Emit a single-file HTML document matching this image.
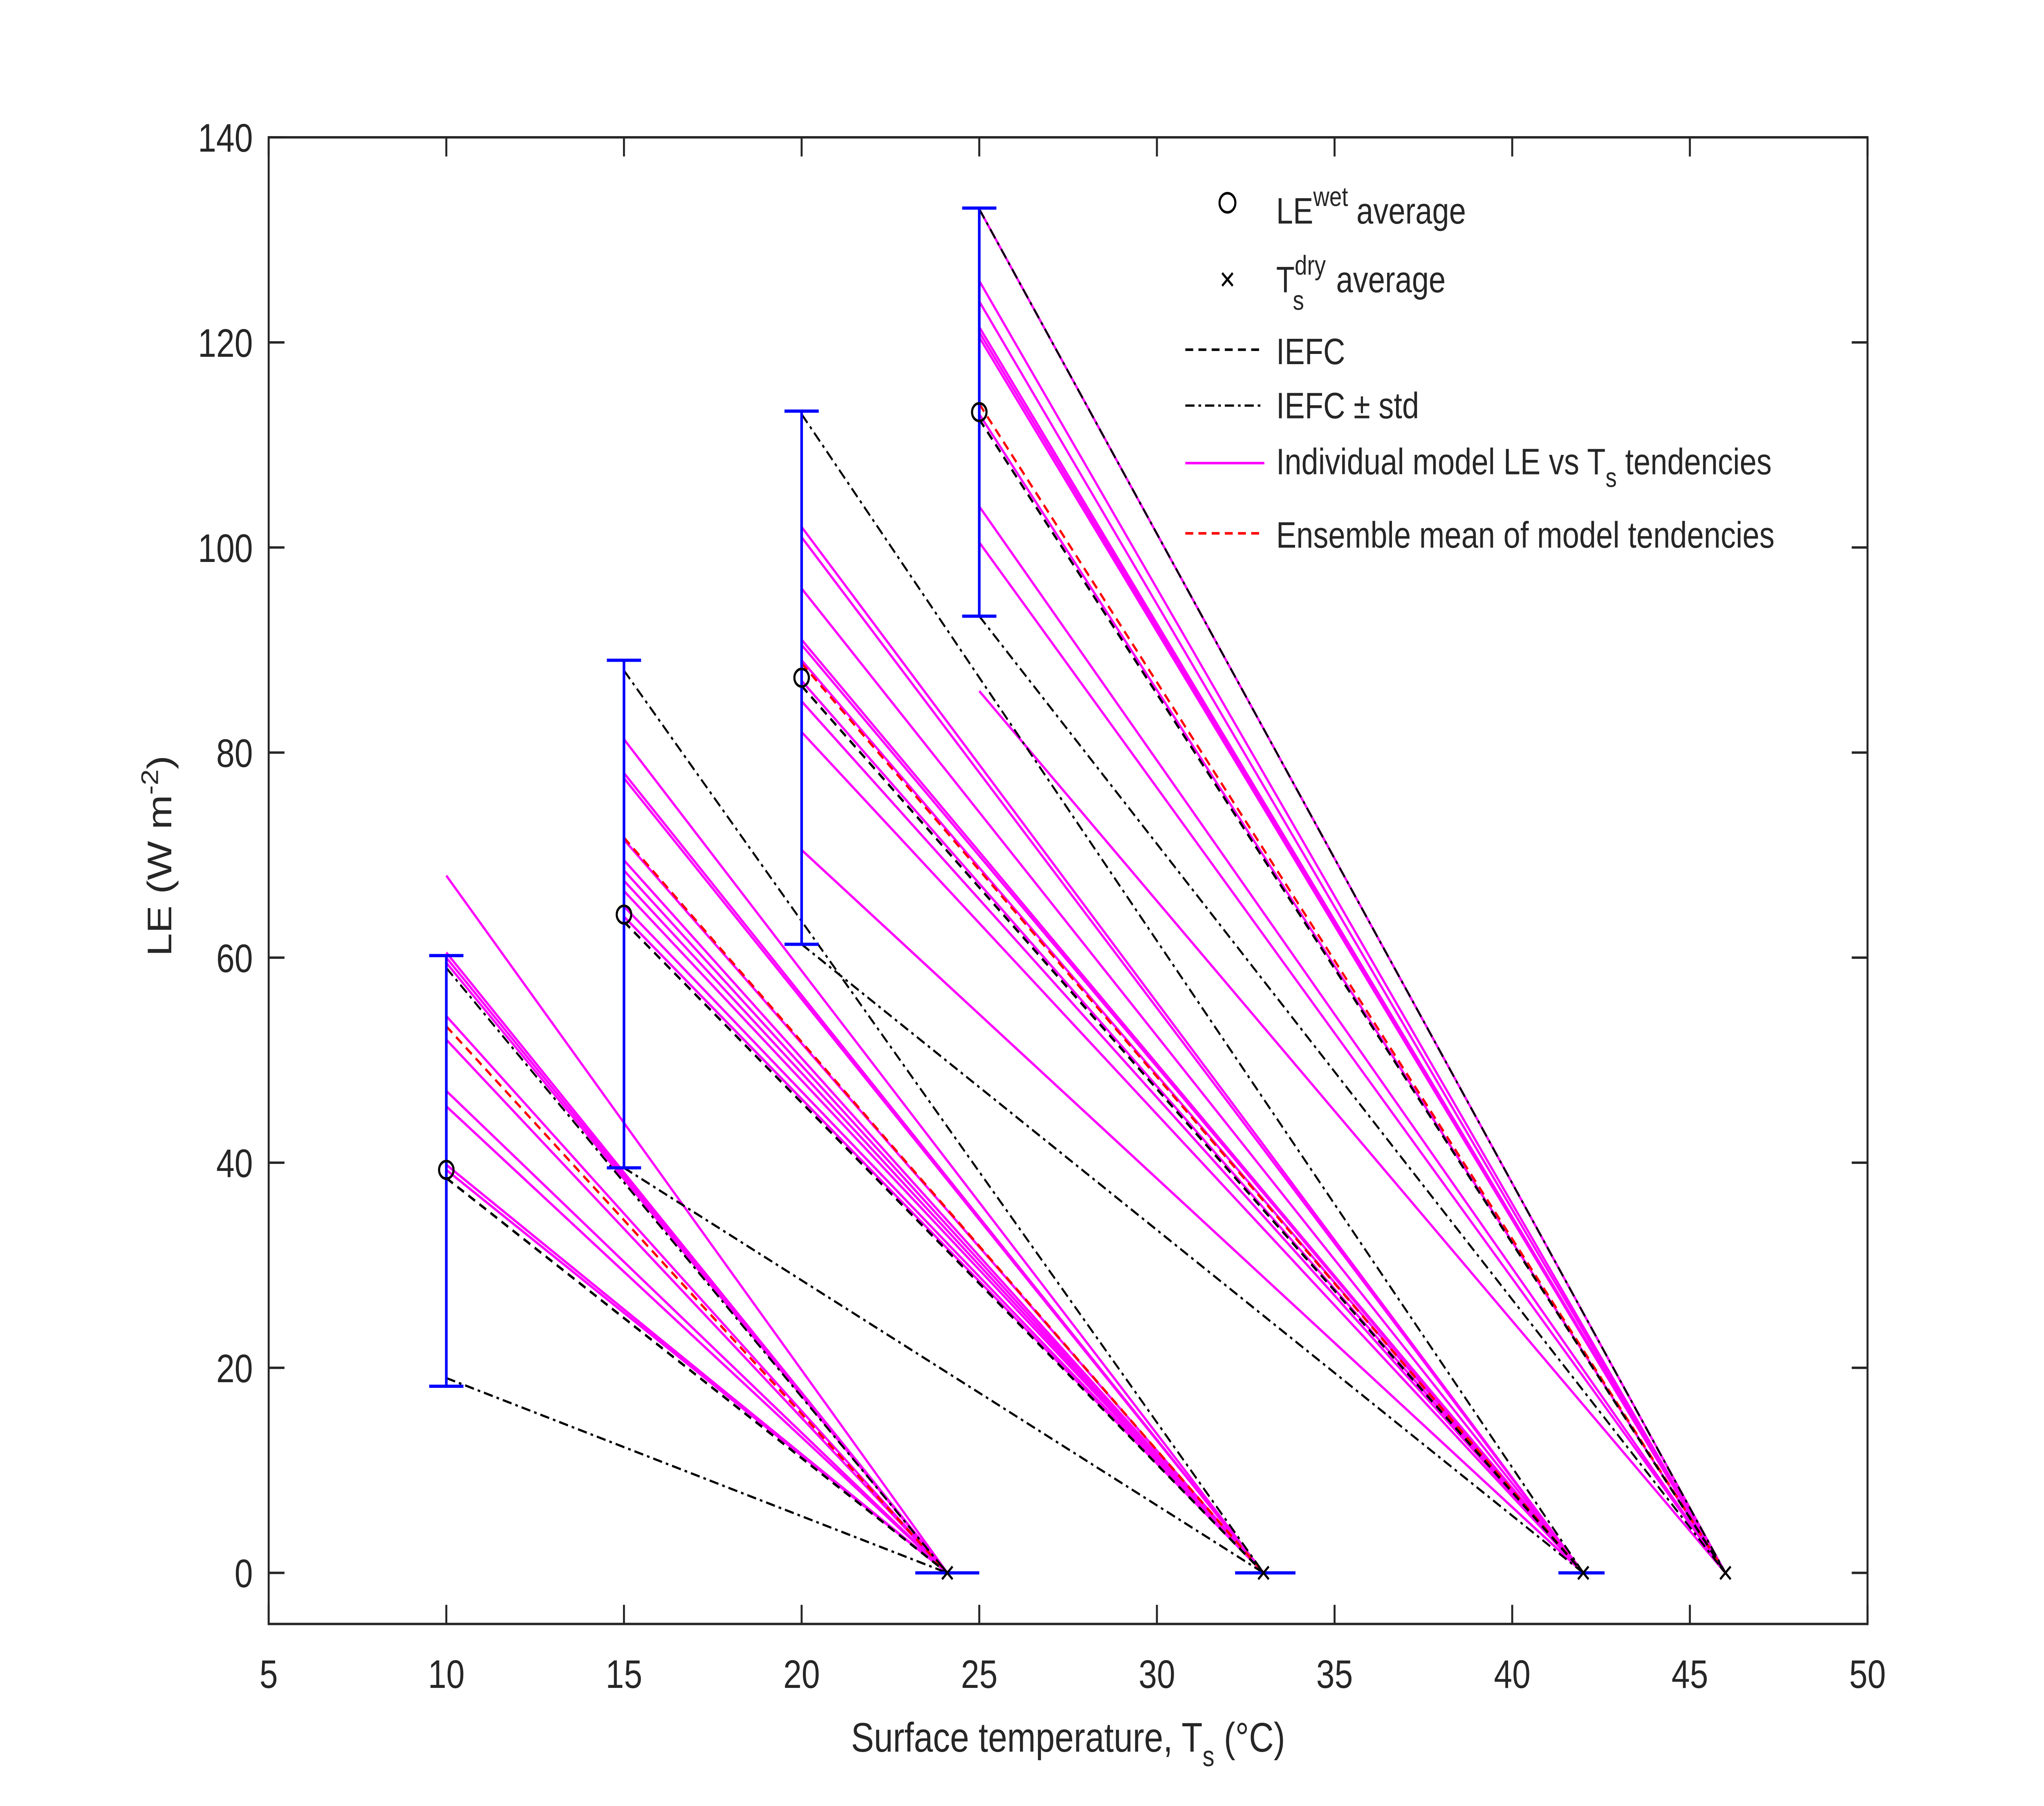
<!DOCTYPE html>
<html><head><meta charset="utf-8"><style>
html,body{margin:0;padding:0;background:#fff;width:100%;height:100%;overflow:hidden;}
svg{display:block;position:absolute;left:0;top:0;width:100vw;height:100vh;}
text{font-family:"Liberation Sans",sans-serif;fill:#262626;}
</style></head><body>
<svg id="chart" viewBox="0 0 1552 1131" preserveAspectRatio="none" xmlns="http://www.w3.org/2000/svg">
<rect width="1552" height="1131" fill="#fff"/>
<g id="scaler">
<g id="plot"></g>
</g>
</svg>
<script>
const wetT = [10, 15, 20, 25];
const dryT = [24.1, 33.0, 42.0, 46.0];
const wetLE = [39.3, 64.2, 87.3, 113.2];
const errLow = [18.2, 39.5, 61.3, 93.3];
const errHigh = [60.2, 89.0, 113.3, 133.1];
const dryErrLow = [23.2, 32.2, 41.3, 46.0];
const dryErrHigh = [25.0, 33.9, 42.6, 46.0];
const iefcStart = [38.5, 63.5, 86.5, 112.5];
const stdUpper = [59.0, 88.0, 113.0, 133.0];
const stdLower = [19.0, 39.5, 61.3, 93.3];
const modelStarts = [
  [68, 60.5, 60, 59.5, 54.3, 52, 47, 45.5, 39.8, 39.3],
  [81.3, 78, 77.5, 71.5, 69.5, 68.5, 67.5, 66.5, 65, 64],
  [102, 101, 96, 91, 90.5, 89, 87, 85, 82, 70.5],
  [133, 126, 124, 121.5, 121, 120.5, 113, 104, 100.5, 86]
];
const ensembleStart = [53.3, 71.7, 88.7, 114];
const xTicks = [5,10,15,20,25,30,35,40,45,50];
const yTicks = [0,20,40,60,80,100,120,140];

const L=204,R=1418,T=86,B=1017;
const X=v=>L+(v-5)*(R-L)/45;
const Y=v=>985-v*(985-86)/140;
const NS="http://www.w3.org/2000/svg";
const g=document.getElementById('plot');
function mk(tag,attrs,parent){const e=document.createElementNS(NS,tag);for(const k in attrs)e.setAttribute(k,attrs[k]);(parent||g).appendChild(e);return e;}
function line(x1,y1,x2,y2,stroke,w,dash){const e=mk('line',{x1,y1,x2,y2,stroke,'stroke-width':w});if(dash)e.setAttribute('stroke-dasharray',dash);return e;}

for(let i=0;i<4;i++){for(let j=0;j<modelStarts[i].length;j++){
  const e=line(X(wetT[i]),Y(modelStarts[i][j]),X(dryT[i]),Y(0),'#ff00ff',1.6);
  
  
}}
for(let i=0;i<4;i++){
  let e=line(X(wetT[i]),Y(ensembleStart[i]),X(dryT[i]),Y(0),'#ff0000',1.6,'6 4');
  
  
  e=line(X(wetT[i]),Y(iefcStart[i]),X(dryT[i]),Y(0),'#000',1.6,'6 4');
  
  
  e=line(X(wetT[i]),Y(stdUpper[i]),X(dryT[i]),Y(0),'#000',1.4,'7 3 2 3');
  
  
  e=line(X(wetT[i]),Y(stdLower[i]),X(dryT[i]),Y(0),'#000',1.4,'7 3 2 3');
  
  
  const x=X(wetT[i]);
  e=mk('path',{d:`M${x},${Y(errLow[i])}V${Y(errHigh[i])}M${x-13},${Y(errLow[i])}H${x+13}M${x-13},${Y(errHigh[i])}H${x+13}`,stroke:'#0000ff','stroke-width':2,fill:'none'});
  
  
  e=mk('path',{d:`M${X(dryErrLow[i])},${Y(0)}H${X(dryErrHigh[i])}`,stroke:'#0000ff','stroke-width':2,fill:'none'});
  
  
  e=mk('circle',{cx:x,cy:Y(wetLE[i]),r:5.5,fill:'none',stroke:'#000','stroke-width':1.6});
  
  
  const dx=X(dryT[i]),dy=Y(0);
  e=mk('path',{d:`M${dx-4},${dy-4}L${dx+4},${dy+4}M${dx-4},${dy+4}L${dx+4},${dy-4}`,stroke:'#000','stroke-width':1.5});
  
  
}
let ax=mk('rect',{x:L,y:T,width:R-L,height:B-T,fill:'none',stroke:'#262626','stroke-width':1.5});


for(const t of xTicks){const x=X(t);
  line(x,B,x,B-12,'#262626',1.5);line(x,T,x,T+12,'#262626',1.5);
  const tx=mk('text',{x:x,y:B+40,'font-size':25,'text-anchor':'middle'});tx.textContent=t;
  
  
}
for(const t of yTicks){const y=Y(t);
  line(L,y,L+12,y,'#262626',1.5);line(R,y,R-12,y,'#262626',1.5);
  const tx=mk('text',{x:L-12,y:y+9,'font-size':25,'text-anchor':'end'});tx.textContent=t;
  
  
}
document.getElementById('scaler').insertAdjacentHTML('beforeend',`
<text x="811" y="1097" font-size="26" text-anchor="middle">Surface temperature, T<tspan font-size="18" dy="9">s</tspan><tspan dy="-9"> (°C)</tspan></text>
<text transform="translate(130,536) rotate(-90)" font-size="26" text-anchor="middle">LE (W m<tspan font-size="18" dy="-10">-2</tspan><tspan dy="10">)</tspan></text>
<g font-size="23">
 <circle cx="932" cy="127" r="6" fill="none" stroke="#000" stroke-width="1.6"/>
 <text x="969" y="140">LE<tspan font-size="17" dy="-11">wet</tspan><tspan dy="11"> average</tspan></text>
 <path d="M928,171L936,179M928,179L936,171" stroke="#000" stroke-width="1.5"/>
 <text x="969" y="183">T<tspan font-size="17" dy="-11">dry</tspan><tspan font-size="17" dx="-25" dy="22">s</tspan><tspan dx="18" dy="-11"> average</tspan></text>
 <line x1="900" y1="219" x2="960" y2="219" stroke="#000" stroke-width="1.6" stroke-dasharray="6 4"/>
 <text x="969" y="228">IEFC</text>
 <line x1="900" y1="254" x2="960" y2="254" stroke="#000" stroke-width="1.4" stroke-dasharray="7 3 2 3"/>
 <text x="969" y="262">IEFC ± std</text>
 <line x1="900" y1="290" x2="960" y2="290" stroke="#ff00ff" stroke-width="1.6"/>
 <text x="969" y="297">Individual model LE vs T<tspan font-size="17" dy="8">s</tspan><tspan dy="-8"> tendencies</tspan></text>
 <line x1="900" y1="334" x2="960" y2="334" stroke="#ff0000" stroke-width="1.6" stroke-dasharray="6 4"/>
 <text x="969" y="343">Ensemble mean of model tendencies</text>
</g>`);
</script>
</body></html>
